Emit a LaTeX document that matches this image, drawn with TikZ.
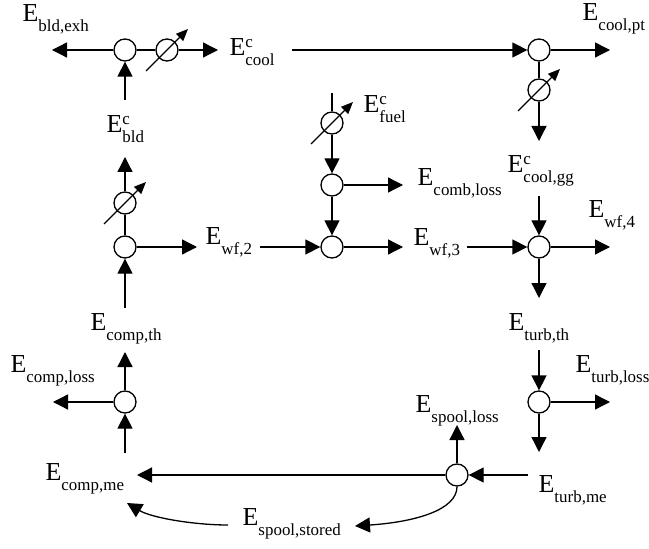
\documentclass[tikz,border=0pt]{standalone}
\usepackage{fontspec}
\setmainfont{Liberation Serif}
\usetikzlibrary{arrows.meta,calc}
\newcommand\El[2]{{\fontsize{26}{26}\selectfont E}\makebox[0pt][l]{\fontsize{17}{17}\selectfont\raisebox{8.5bp}{#2}}{\fontsize{17}{17}\selectfont\raisebox{-10bp}{#1}}}
\begin{document}
\begin{tikzpicture}[x=1bp,y=-1bp,line width=1.3bp,
  junc/.style={circle,draw,fill=white,minimum size=22bp,inner sep=0pt},
  arr/.style={-{Triangle[length=15bp,width=15bp]}},
  varr/.style={-{Triangle[length=12bp,width=10bp]}},
  lbl/.style={anchor=base west,inner sep=0pt}]
\useasboundingbox (0,0) rectangle (649,549);
% labels
\node[lbl] (Lbldexh) at (22,22) {\El{bld,exh}{}};
\node[lbl] (Lcool) at (229,56) {\El{cool}{c}};
\node[lbl] (Lcoolpt) at (582,21) {\El{cool,pt}{}};
\node[lbl] (Lbld) at (106,133) {\El{bld}{c}};
\node[lbl] (Lfuel) at (363,113) {\El{fuel}{c}};
\node[lbl] (Lcoolgg) at (507,173) {\El{cool,gg}{c}};
\node[lbl] (Lcomb) at (417,186) {\El{comb,loss}{}};
\node[lbl] (Lwf2) at (205,245) {\El{wf,2}{}};
\node[lbl] (Lwf3) at (413,246) {\El{wf,3}{}};
\node[lbl] (Lwf4) at (588,218) {\El{wf,4}{}};
\node[lbl] (Lturbth) at (508,330) {\El{turb,th}{}};
\node[lbl] (Lcompth) at (90,330) {\El{comp,th}{}};
\node[lbl] (Lcomploss) at (10,372) {\El{comp,loss}{}};
\node[lbl] (Lturbloss) at (575,372) {\El{turb,loss}{}};
\node[lbl] (Lspoolloss) at (415,412) {\El{spool,loss}{}};
\node[lbl] (Lcompme) at (45,480) {\El{comp,me}{}};
\node[lbl] (Lturbme) at (538,492) {\El{turb,me}{}};
\node[lbl] (Lstored) at (242,525) {\El{spool,stored}{}};
% junctions and valves
\node[junc] (J1) at (125,50) {};
\node[junc] (V1) at (167,50) {};
\node[junc] (J2) at (539,50) {};
\node[junc] (V2) at (539,90) {};
\node[junc] (Vf) at (332,123) {};
\node[junc] (J3) at (332,185) {};
\node[junc] (J4) at (332,247) {};
\node[junc] (Vb) at (125,203) {};
\node[junc] (J5) at (125,247) {};
\node[junc] (J6) at (539,247) {};
\node[junc] (J7) at (125,402) {};
\node[junc] (J8) at (539,402) {};
\node[junc] (J9) at (457,475) {};
% free ends
\coordinate (a1) at (52,50);
\coordinate (a2) at (218,50);
\coordinate (s3) at (292,50);
\coordinate (a4) at (610,50);
\coordinate (a5) at (539,141);
\coordinate (s6) at (539,196);
\coordinate (a7) at (610,247);
\coordinate (a8) at (539,298);
\coordinate (s9) at (539,350);
\coordinate (a10) at (610,402);
\coordinate (a11) at (539,452);
\coordinate (s12) at (528,475);
\coordinate (a13) at (457,425);
\coordinate (a14) at (137,475);
\coordinate (a15) at (355,526);
\coordinate (s16) at (228,525);
\coordinate (a17) at (127,503);
\coordinate (a18) at (53,402);
\coordinate (a19) at (125,352);
\coordinate (s20) at (125,453);
\coordinate (s21) at (125,308);
\coordinate (a22) at (125,157);
\coordinate (s23) at (125,100);
\coordinate (a24) at (197,247);
\coordinate (s25) at (260,247);
\coordinate (s26) at (332,93);
\coordinate (a27) at (403,185);
\coordinate (a28) at (403,247);
\coordinate (s29) at (467,247);
% connectors
\draw[arr] (J1) -- (a1);
\draw (J1) -- (V1);
\draw[arr] (V1) -- (a2);
\draw[arr] (s3) -- (J2);
\draw[arr] (J2) -- (a4);
\draw (J2) -- (V2);
\draw[arr] (V2) -- (a5);
\draw[arr] (s6) -- (J6);
\draw[arr] (J6) -- (a7);
\draw[arr] (J6) -- (a8);
\draw[arr] (s9) -- (J8);
\draw[arr] (J8) -- (a10);
\draw[arr] (J8) -- (a11);
\draw[arr] (s12) -- (J9);
\draw[arr] (J9) -- (a13);
\draw[arr] (J9) -- (a14);
\draw[arr] (J9.south) .. controls (457,510) and (415,522) .. (a15);
\draw[arr] (s16) .. controls (195,525) and (152,518) .. (a17);
\draw[arr] (J7) -- (a18);
\draw[arr] (J7) -- (a19);
\draw[arr] (s20) -- (J7);
\draw[arr] (s21) -- (J5);
\draw (J5) -- (Vb);
\draw[arr] (Vb) -- (a22);
\draw[arr] (s23) -- (J1);
\draw[arr] (J5) -- (a24);
\draw[arr] (s25) -- (J4);
\draw (s26) -- (Vf);
\draw[arr] (Vf) -- (J3);
\draw[arr] (J3) -- (a27);
\draw[arr] (J3) -- (J4);
\draw[arr] (J4) -- (a28);
\draw[arr] (s29) -- (J6);
% valve arrows
\foreach \v in {V1,V2,Vb,Vf}{
  \draw[varr] ($(\v)+(-21,21)$) -- ($(\v)+(21,-21)$);
}
\end{tikzpicture}
\end{document}
